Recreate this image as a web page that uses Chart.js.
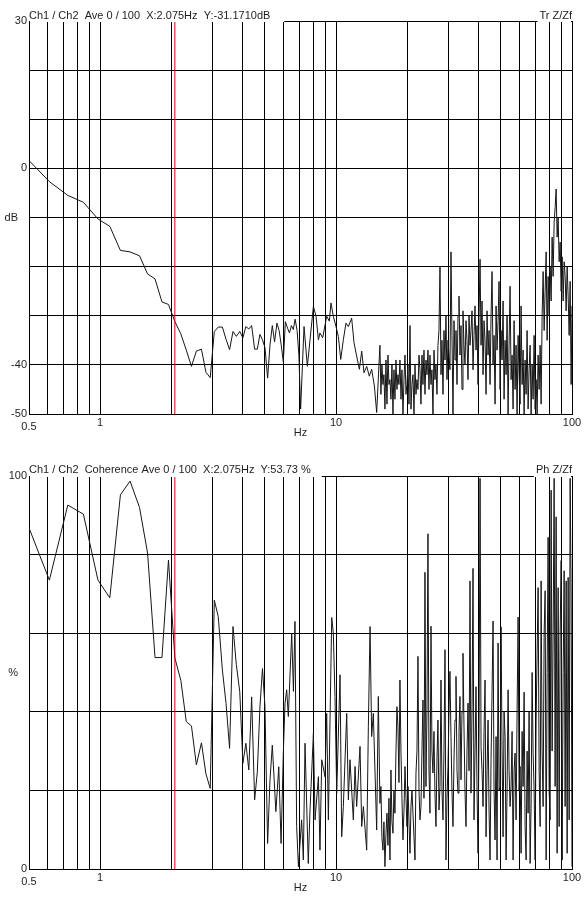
<!DOCTYPE html>
<html><head><meta charset="utf-8">
<script src="https://cdn.jsdelivr.net/npm/chart.js@4.4.1/dist/chart.umd.min.js"></script>
<style>
html,body{margin:0;padding:0;background:#fff;width:584px;height:897px;overflow:hidden}
canvas{position:absolute;left:0}
#c1{top:0}
#c2{top:450px}
</style></head><body>
<canvas id="c1" width="584" height="450"></canvas>
<canvas id="c2" width="584" height="447"></canvas>
<script>
// ---------- axis / tick data ----------
const xGridTicks = [0.5,0.6,0.7,0.8,0.9,1,2,3,4,5,6,7,8,9,10,20,30,40,50,60,70,80,90,100];
const xTickLabels = {1:'1', 10:'10', 100:'100'};
const trYTicks = [-50,-40,-30,-20,-10,0,10,20,30];
const trYLabels = {'30':'30', '0':'0', '-40':'-40', '-50':'-50'};
const cohYTicks = [0,20,40,60,80,100];
const cohYLabels = {'100':'100', '0':'0'};
const cursorFreq = 2.075;
const trTitle = 'Ch1 / Ch2  Ave 0 / 100  X:2.075Hz  Y:-31.1710dB';
const trRight = 'Tr Z/Zf';
const cohTitle = 'Ch1 / Ch2  Coherence Ave 0 / 100  X:2.075Hz  Y:53.73 %';
const cohRight = 'Ph Z/Zf';

// ---------- low-frequency part: transfer function (dB) ----------
const trFreqLF = [0.5,0.61,0.73,0.85,0.98,1.10,1.22,1.34,1.47,1.59,1.71,1.83,1.95,2.075,2.20,2.32,2.44,2.56,2.69,2.81,2.93,3.05,3.17,3.30,3.42,3.54,3.66,3.78,3.91,4.03,4.15,4.27,4.39,4.52,4.64,4.76,4.88,5.00,5.13,5.25,5.37,5.49,5.62,5.74,5.86,5.98,6.10,6.23,6.35,6.47,6.59,6.71,6.84,6.96,7.08,
7.32,7.56,7.76,8.02,8.23,8.42,8.55,8.78,9.13,9.37,9.52,9.74,10.0,10.23,10.47,10.74,11.02,11.28,11.65,11.92,12.23,12.56,12.85,13.14,13.49,13.84,14.16,14.54,14.87];
const trDbLF = [1.6,-2.7,-5.5,-6.9,-10.3,-11.8,-16.7,-17.0,-17.8,-21.5,-22.5,-27.2,-27.7,-31.17,-33.7,-37.0,-40.3,-37.2,-36.8,-41.5,-42.6,-33.2,-32.3,-32.3,-34.8,-36.9,-33.2,-34.2,-33.2,-34.5,-32.2,-32.7,-32.0,-36.8,-36.8,-33.8,-34.9,-36.5,-42.7,-36.0,-32.0,-35.3,-31.5,-33.0,-36.0,-39.4,-31.2,-32.5,-33.5,-32.0,-32.8,-30.7,-33.0,-38.0,-49.0,
-32.2,-40.3,-34.9,-28.1,-30.1,-34.9,-33.5,-34.5,-30.1,-31.1,-27.4,-30.1,-32.2,-34.2,-38.9,-34.9,-31.5,-32.2,-30.5,-35.5,-38.2,-40.9,-37.2,-41.6,-40.3,-42.3,-40.9,-44.3,-49.7];

// ---------- low-frequency part: coherence (%) ----------
const cohFreqLF = [0.5,0.61,0.73,0.85,0.98,1.10,1.22,1.34,1.47,1.59,1.71,1.83,1.95,2.075,2.20,2.32,2.44,2.56,2.69,2.81,2.93,3.05,3.17,3.30,3.42,3.54,3.66,3.78,3.91,4.03,4.15,4.27,4.39,4.52,4.64,4.76,4.88,5.00,5.13,5.25,5.37,5.56,5.72,5.85,
5.98,6.08,6.18,6.28,6.49,6.60,6.70,6.81,6.93,7.15,7.27,7.39,7.63,7.76,8.02,8.15,8.42,8.55,8.70,8.98,9.13,9.28,9.59,9.74,9.90,10.07,10.40,10.57,10.74,11.10,11.28,11.46,11.84,12.04,12.23,12.64,12.85,13.06,13.49,13.71,13.94,14.16,14.39,14.87,15.11];
const cohPctLF = [86.8,73.5,92.6,90.3,73.5,69.0,95.2,98.7,92.0,80.4,53.8,53.8,78.6,53.73,48.0,37.5,36.4,26.5,32.1,24.2,20.5,68.4,64.2,50.6,42.1,30.7,61.7,52.0,45.1,26.9,32.0,25.2,43.8,17.6,24.7,41.3,51.0,41.3,6.5,22.6,31.5,14.6,26.0,6.5,
29.5,42.2,45.6,38.8,60.0,45.2,63.0,10.8,0.6,12.5,2.3,32.0,1.4,15.0,34.5,12.5,23.5,4.8,27.8,23.5,39.6,12.5,64.0,60.0,43.9,19.3,49.4,8.2,15.9,39.6,17.6,27.8,12.5,26.1,15.9,31.2,10.8,15.9,4.8,36.2,61.7,33.7,39.6,9.9,43.9];

// ---------- high-frequency part: shared frequency bins (Hz) ----------
const hfFreq = [15.35,15.50,15.65,15.81,15.96,16.12,16.28,16.44,16.60,16.76,
16.93,17.09,17.26,17.43,17.60,17.77,17.95,18.12,18.30,18.48,
18.66,18.85,19.03,19.22,19.41,19.60,19.79,19.98,20.18,20.38,
20.58,20.78,20.98,21.19,21.40,21.61,21.82,22.03,22.25,22.47,
22.69,22.91,23.13,23.36,23.59,23.82,24.05,24.29,24.53,24.77,
25.01,25.26,25.50,25.75,26.01,26.26,26.52,26.78,27.04,27.31,
27.58,27.85,28.12,28.40,28.67,28.96,29.24,29.53,29.82,30.11,
30.40,30.70,31.00,31.31,31.62,31.93,32.24,32.56,32.88,33.20,
33.52,33.85,34.19,34.52,34.86,35.20,35.55,35.90,36.25,36.61,
36.97,37.33,37.70,38.07,38.44,38.82,39.20,39.59,39.98,40.37,
40.77,41.17,41.57,41.98,42.39,42.81,43.23,43.65,44.08,44.51,
44.95,45.39,45.84,46.29,46.74,47.20,47.67,48.13,48.61,49.08,
49.57,50.05,50.54,51.04,51.54,52.05,52.56,53.07,53.60,54.12,
54.65,55.19,55.73,56.28,56.83,57.39,57.95,58.52,59.10,59.68,
60.26,60.85,61.45,62.06,62.67,63.28,63.90,64.53,65.16,65.80,
66.45,67.10,67.76,68.43,69.10,69.78,70.46,71.15,71.85,72.56,
73.27,73.99,74.71,75.45,76.19,76.94,77.69,78.45,79.22,80.00,
80.79,81.58,82.38,83.19,84.01,84.83,85.66,86.50,87.35,88.21,
89.08,89.95,90.83,91.72,92.62,93.53,94.45,95.38,96.31,97.26,
98.21,99.17,100];
const trDbHF = [-36,-46,-40,-44,-42,-49,-39,-48,-38,-44,
-43,-47,-40,-50,-41,-47,-39,-45,-42,-44,
-39,-47,-41,-50,-43,-38,-46,-44,-40,-48,
-32,-49,-44,-42,-50,-40,-46,-43,-45,-38,
-41,-48,-38,-44,-37,-46,-39,-42,-37,-45,
-38,-44,-41,-50,-37,-43,-40,-46,-36,-33,
-20,-42,-35,-46,-33,-39,-30,-43,-35,-38,
-41,-17,-34,-50,-31,-39,-33,-44,-30,-26,
-38,-32,-45,-29,-36,-40,-31,-35,-43,-30,
-36,-33,-29,-41,-34,-28,-37,-32,-44,-30,
-18.5,-36,-27,-42,-31,-35,-46,-29,-38,-33,
-44,-30,-21,-40,-34,-48,-28,-37,-31,-23,
-45,-33,-39,-27,-47,-35,-42,-30,-50,-36,
-24,-43,-38,-49,-31,-45,-36,-50,-34,-42,
-48,-28,-44,-37,-50,-39,-46,-33,-49,-41,
-36,-50,-40,-47,-34,-49,-43,-50,-38,-45,
-36,-48,-30,-21,-33,-25,-17,-35,-22,-30,
-20,-27,-14,-22,-11,-8,-4.2,-14,-10,-19,
-15,-25,-18,-27,-19,-22,-29,-20,-26,-34,
-23,-44,-28];
const cohPctHF = [16.7,21.0,8,4.8,12,0.6,9,14.2,6,18,
2.3,25.2,12,9.1,20,14.2,30,41.3,36.2,22,
48.1,29.5,18,7.4,15,26.1,18,10.8,21.0,12,
4.0,15.9,20,14.2,8,2.3,24.4,30,54.1,20,
12.5,15.9,30,43.0,18,75.5,21.0,40,85.3,25,
14.2,61.8,30,24.4,35,19.3,10.8,28,37.9,15,
21.0,48.1,20,12.5,30,55.8,2.3,18,26.1,40,
50.3,33.7,20,10.8,28,37.9,49.0,25,19.3,35,
43.9,22.7,40,54.9,36.2,20,10.8,30,42.2,25,
73.3,19.3,40,76.5,12.5,30,46.4,20,4.0,35,
99.4,31.2,25,15.9,35,48.1,8.2,25,37.9,15,
2.3,27.8,45,63.1,20,7.4,33.7,2.3,57.5,20,
21.0,61.6,30,8.2,40,33.7,2.3,20,45.6,25,
15.9,21.0,35,2.3,25,29.5,12.5,40,64.1,20,
26.1,4.0,35,21.0,45,10.8,2.3,30,14.2,40,
1.4,16.7,50,29.5,20,2.3,37.9,55,71.6,25,
10.8,73.3,30,15.9,60,70.8,2.3,50,84.4,20,
12.5,96.4,30,60,99.4,21,89.6,4.0,71.6,10.8,
60,78.5,2.3,50,75.9,15.9,73.3,4.0,74.2,12.5,
99.4,69.5,0.6];

// ---------- drawing ----------
const FONT = '"Liberation Sans", Arial, sans-serif';
const TXT = '#1e1e1e';

function overlay(o) {
  return {
    id: 'overlay',
    afterDraw(chart) {
      const {ctx, chartArea: a, scales} = chart;
      ctx.save();
      ctx.font = '11px ' + FONT;
      const tw = ctx.measureText(o.title).width;
      ctx.fillStyle = '#fff';
      ctx.fillRect(a.left + 1, a.top - 13, tw + o.titleGap, 14);
      const rw = ctx.measureText(o.right).width;
      ctx.fillRect(a.right - rw - 2, a.top - 13, rw + 1, 14);
      ctx.fillStyle = TXT;
      ctx.textBaseline = 'alphabetic';
      ctx.textAlign = 'left';
      ctx.fillText(o.title, a.left, a.top - o.titleRaise);
      ctx.textAlign = 'right';
      ctx.fillText(o.right, a.right, a.top - o.titleRaise);
      ctx.textBaseline = 'middle';
      ctx.fillText(o.unit, o.unitRight, (a.top + a.bottom) / 2);
      ctx.textAlign = 'center';
      ctx.fillText('0.5', scales.x.getPixelForValue(0.5), a.bottom + 13);
      ctx.fillText('Hz', (a.left + a.right) / 2, a.bottom + 18.5);
      ctx.restore();
    }
  };
}

function makeChart(id, o) {
  const freq = o.freqLF.concat(hfFreq);
  const vals = o.valsLF.concat(o.valsHF);
  const pts = freq.map((f, i) => ({x: f, y: vals[i]}));
  return new Chart(document.getElementById(id), {
    type: 'line',
    data: {datasets: [
      {data: [{x: cursorFreq, y: o.yMin}, {x: cursorFreq, y: o.yMax}], borderColor: '#e00000', borderWidth: 1, pointRadius: 0, order: 0},
      {data: pts, borderColor: '#161616', borderWidth: 1, pointRadius: 0, tension: 0, order: 1}
    ]},
    options: {
      responsive: false, animation: false, devicePixelRatio: 1,
      layout: {padding: {left: 0, right: 12, top: o.padTop, bottom: 0}},
      plugins: {legend: {display: false}, tooltip: {enabled: false}},
      elements: {line: {borderJoinStyle: 'miter'}},
      scales: {
        x: {
          type: 'logarithmic', min: 0.5, max: 100,
          afterBuildTicks: s => { s.ticks = xGridTicks.map(v => ({value: v})); },
          afterFit: s => { s.height = o.xHeight; },
          grid: {color: '#000', lineWidth: 1, drawTicks: false},
          border: {color: '#000', width: 1},
          ticks: {autoSkip: false, maxRotation: 0, minRotation: 0, padding: o.xPad, color: TXT,
                  font: {family: FONT, size: 11}, callback: v => xTickLabels[v] || ''}
        },
        y: {
          type: 'linear', min: o.yMin, max: o.yMax,
          afterBuildTicks: s => { s.ticks = o.yTicks.map(v => ({value: v})); },
          afterFit: s => { s.width = 29; },
          grid: {color: '#000', lineWidth: 1, drawTicks: false},
          border: {color: '#000', width: 1},
          ticks: {autoSkip: false, padding: 2, color: TXT, font: {family: FONT, size: 11},
                  callback: v => o.yLabels[String(v)] || ''}
        }
      }
    },
    plugins: [overlay(o)]
  });
}

makeChart('c1', {freqLF: trFreqLF, valsLF: trDbLF, valsHF: trDbHF, yMin: -50, yMax: 30, yTicks: trYTicks, yLabels: trYLabels,
  padTop: 21, xHeight: 36, xPad: 2, title: trTitle, right: trRight, titleGap: 13, titleRaise: 2.5,
  unit: 'dB', unitRight: 18});
makeChart('c2', {freqLF: cohFreqLF, valsLF: cohPctLF, valsHF: cohPctHF, yMin: 0, yMax: 100, yTicks: cohYTicks, yLabels: cohYLabels,
  padTop: 26, xHeight: 28, xPad: 2, title: cohTitle, right: cohRight, titleGap: 10, titleRaise: 2.7,
  unit: '%', unitRight: 18});
</script>
</body></html>
